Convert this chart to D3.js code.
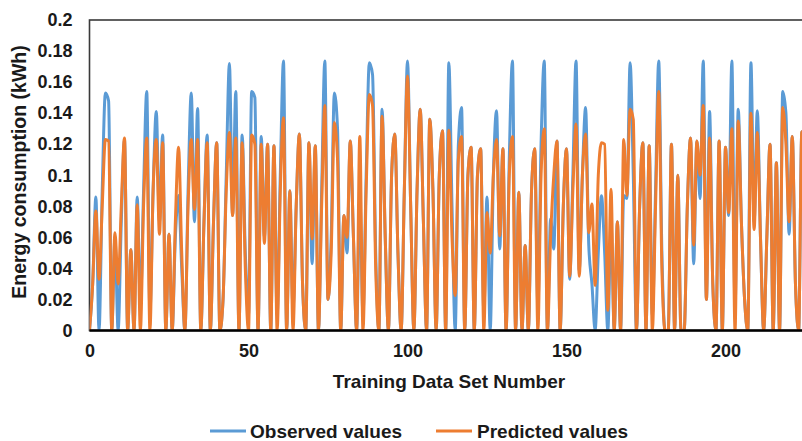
<!DOCTYPE html>
<html>
<head>
<meta charset="utf-8">
<script src="https://cdn.jsdelivr.net/npm/d3@7"></script>
<style>
  html, body { margin: 0; padding: 0; background: #ffffff; }
  svg { display: block; }
  text { font-family: "Liberation Sans", Arial, Helvetica, sans-serif; font-weight: bold; fill: #1a1a1a; }
</style>
</head>
<body>
<svg id="chart" width="802" height="441"></svg>
<script>
// Energy consumption per training data set (kWh)
const observed = [
  0, 0.03, 0.086, 0, 0.09, 0.153, 0.148, 0, 0.06, 0,
  0.07, 0.123, 0, 0.052, 0, 0.086, 0.016, 0.09, 0.154, 0.012,
  0.09, 0.141, 0.07, 0.126, 0, 0.062, 0, 0.06, 0.087, 0.04,
  0, 0.09, 0.153, 0.07, 0.143, 0, 0.07, 0.126, 0, 0.07,
  0.121, 0, 0.02, 0.1, 0.172, 0.074, 0.154, 0, 0.126, 0.05,
  0.01, 0.154, 0.15, 0, 0.125, 0.06, 0.12, 0, 0.119, 0.01,
  0.1, 0.1736, 0, 0.09, 0.014, 0.08, 0.1265, 0.03, 0, 0.121,
  0.043, 0.119, 0, 0.09, 0.1736, 0.02, 0.06, 0.153, 0.13, 0,
  0.074, 0.05, 0.122, 0.06, 0, 0.087, 0.01, 0.1, 0.1725, 0.165,
  0.05, 0, 0.1425, 0.06, 0, 0.1, 0.1265, 0.05, 0, 0.09,
  0.1736, 0.08, 0, 0.09, 0.1425, 0.07, 0, 0.136, 0.09, 0,
  0.1, 0.1286, 0, 0.1725, 0.08, 0, 0.12, 0.1436, 0, 0.1,
  0.118, 0, 0.1, 0.117, 0.012, 0.086, 0, 0.1, 0.1415, 0.0525,
  0.117, 0, 0.11, 0.1736, 0, 0.089, 0, 0.0547, 0, 0.09,
  0.117, 0.016, 0.12, 0.1736, 0, 0.072, 0.0525, 0.122, 0, 0.08,
  0.117, 0.033, 0.1, 0.1736, 0.0386, 0.1, 0.1436, 0.055, 0.03, 0,
  0.05, 0.0868, 0.05, 0, 0.07, 0, 0.07, 0, 0.087, 0.085,
  0.1725, 0.1, 0, 0.08, 0.121, 0, 0.119, 0.01, 0.09, 0.1736,
  0.05, 0, 0, 0.12, 0, 0.1, 0, 0, 0.08, 0.124,
  0.043, 0.122, 0.085, 0.1736, 0.02, 0.141, 0.03, 0, 0.122, 0,
  0.118, 0.074, 0.1736, 0.014, 0.1425, 0.07, 0.02, 0, 0.1725, 0.07,
  0.1415, 0.06, 0, 0.06, 0.12, 0, 0.108, 0, 0.154, 0.14,
  0.062, 0.125, 0.03, 0, 0.128, 0.06, 0
];

const predicted = [
  0, 0.03, 0.077, 0.033, 0.08, 0.123, 0.122, 0, 0.063, 0.03,
  0.08, 0.124, 0, 0.052, 0, 0.081, 0, 0.08, 0.124, 0,
  0.09, 0.123, 0.062, 0.121, 0, 0.062, 0, 0.07, 0.118, 0.05,
  0, 0.08, 0.123, 0.078, 0.123, 0, 0.07, 0.121, 0, 0.07,
  0.121, 0, 0.02, 0.09, 0.1275, 0.074, 0.124, 0, 0.121, 0.04,
  0, 0.126, 0.12, 0, 0.12, 0.056, 0.12, 0, 0.119, 0,
  0.09, 0.137, 0, 0.09, 0, 0.08, 0.1265, 0.03, 0, 0.121,
  0.059, 0.119, 0, 0.08, 0.145, 0.02, 0.05, 0.134, 0.11, 0,
  0.074, 0.06, 0.122, 0.06, 0, 0.125, 0, 0.09, 0.152, 0.145,
  0.04, 0, 0.138, 0.06, 0, 0.1, 0.1265, 0.05, 0, 0.09,
  0.164, 0.08, 0, 0.09, 0.1425, 0.07, 0, 0.136, 0.09, 0,
  0.1, 0.1286, 0, 0.129, 0.06, 0.0225, 0.11, 0.125, 0, 0.1,
  0.118, 0, 0.1, 0.117, 0, 0.076, 0.05, 0.1, 0.123, 0.061,
  0.117, 0, 0.1, 0.125, 0, 0.089, 0, 0.0547, 0, 0.09,
  0.117, 0, 0.1, 0.13, 0, 0.06, 0.1, 0.122, 0, 0.08,
  0.117, 0.035, 0.09, 0.133, 0.035, 0.1, 0.1265, 0.063, 0.0815, 0.029,
  0.1, 0.121, 0.12, 0.013, 0.091, 0, 0.07, 0, 0.123, 0.087,
  0.1425, 0.136, 0, 0.08, 0.121, 0, 0.119, 0, 0.08, 0.154,
  0.04, 0, 0, 0.12, 0, 0.1, 0, 0, 0.08, 0.124,
  0.055, 0.122, 0.1, 0.145, 0.02, 0.124, 0.03, 0, 0.122, 0,
  0.118, 0.076, 0.13, 0, 0.135, 0.07, 0.02, 0, 0.14, 0.065,
  0.1275, 0.06, 0, 0.06, 0.12, 0, 0.108, 0, 0.1436, 0.12,
  0.07, 0.125, 0.03, 0, 0.128, 0.06, 0
];

const xTicks = [0, 50, 100, 150, 200];
const yTicks = [0, 0.02, 0.04, 0.06, 0.08, 0.1, 0.12, 0.14, 0.16, 0.18, 0.2];
const seriesNames = ["Observed values", "Predicted values"];
const seriesColors = ["#5b9bd5", "#ed7d31"];

const svg = d3.select("#chart");
const plot = { left: 89.5, top: 20, right: 805, bottom: 330.5 };

const x = d3.scaleLinear().domain([0, 225]).range([plot.left, plot.right]);
const y = d3.scaleLinear().domain([0, 0.2]).range([plot.bottom, plot.top]);

svg.append("defs").append("clipPath").attr("id", "plot-clip")
  .append("rect")
  .attr("x", plot.left).attr("y", plot.top)
  .attr("width", plot.right - plot.left).attr("height", plot.bottom - plot.top);

// plot frame
svg.append("rect")
  .attr("x", plot.left).attr("y", plot.top)
  .attr("width", plot.right - plot.left).attr("height", plot.bottom - plot.top)
  .attr("fill", "none").attr("stroke", "#3a3a3a").attr("stroke-width", 1.6);

// smoothed series lines
const line = d3.line()
  .x((d, i) => x(i))
  .y(d => y(d))
  .curve(d3.curveMonotoneX);

const lines = svg.append("g").attr("clip-path", "url(#plot-clip)");
[observed, predicted].forEach((vals, k) => {
  lines.append("path")
    .datum(vals)
    .attr("d", line)
    .attr("fill", "none")
    .attr("stroke", seriesColors[k])
    .attr("stroke-width", 3)
    .attr("stroke-linejoin", "round")
    .attr("stroke-linecap", "round");
});

// horizontal axis line at zero
svg.append("line")
  .attr("x1", plot.left).attr("x2", plot.right)
  .attr("y1", y(0)).attr("y2", y(0))
  .attr("stroke", "#000").attr("stroke-width", 2.4);

// axes
const yAxis = svg.append("g")
  .attr("transform", `translate(${plot.left - 17},0)`)
  .call(d3.axisLeft(y).tickValues(yTicks).tickSize(0).tickPadding(0)
    .tickFormat(d => String(+d.toFixed(2))));
yAxis.select(".domain").remove();
yAxis.selectAll("text").attr("font-size", 18).attr("fill", "#1a1a1a")
  .style("font-family", '"Liberation Sans", Arial, sans-serif').style("font-weight", "bold");

const xAxis = svg.append("g")
  .attr("transform", `translate(0,${plot.bottom + 14})`)
  .call(d3.axisBottom(x).tickValues(xTicks).tickSize(0).tickPadding(0));
xAxis.select(".domain").remove();
xAxis.selectAll("text").attr("font-size", 18).attr("fill", "#1a1a1a")
  .style("font-family", '"Liberation Sans", Arial, sans-serif').style("font-weight", "bold");

// axis titles
svg.append("text")
  .attr("transform", "translate(26,172) rotate(-90)")
  .attr("text-anchor", "middle")
  .attr("font-size", 19.5)
  .text("Energy consumption (kWh)");

svg.append("text")
  .attr("x", 449).attr("y", 388)
  .attr("text-anchor", "middle")
  .attr("font-size", 19)
  .text("Training Data Set Number");

// legend
const legend = svg.append("g").attr("transform", "translate(0,431)");
const legendItems = [
  { x0: 210, x1: 246, tx: 250 },
  { x0: 436, x1: 472, tx: 477 }
];
seriesNames.forEach((name, k) => {
  const it = legendItems[k];
  legend.append("line")
    .attr("x1", it.x0).attr("x2", it.x1).attr("y1", 0).attr("y2", 0)
    .attr("stroke", seriesColors[k]).attr("stroke-width", 3);
  legend.append("text")
    .attr("x", it.tx).attr("y", 7)
    .attr("font-size", 19)
    .text(name);
});
</script>
</body>
</html>
